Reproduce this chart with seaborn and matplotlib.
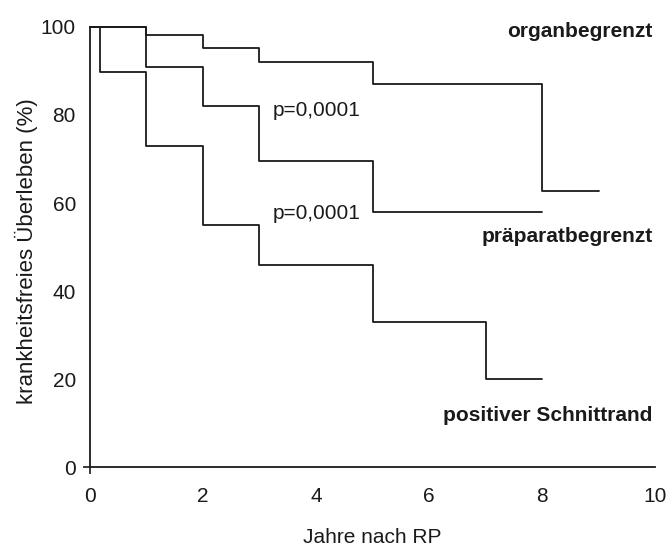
import pandas as pd
import matplotlib
matplotlib.use('Agg')
import matplotlib.pyplot as plt
import seaborn as sns

sns.set_style('white')
plt.rcParams['font.family'] = ['Liberation Sans', 'DejaVu Sans']

# Kaplan-Meier Stufen (Jahre, krankheitsfreies Ueberleben %)
organ_x = [0, 1, 2, 3, 5, 8, 9]
organ_y = [100, 98.2, 95.2, 92, 87, 62.7, 62.7]

praep_x = [0, 1, 2, 3, 5, 8]
praep_y = [100, 91, 82, 69.6, 58, 58]

positiv_x = [0, 0.18, 1, 2, 3, 5, 7, 8]
positiv_y = [100, 89.8, 73, 55, 46, 33, 20, 20]

group_names = ['organbegrenzt', 'präparatbegrenzt', 'positiver Schnittrand']

frames = []
for name, xs, ys in zip(group_names, [organ_x, praep_x, positiv_x], [organ_y, praep_y, positiv_y]):
    frames.append(pd.DataFrame({'jahre': xs, 'ueberleben': ys, 'gruppe': name}))
df = pd.concat(frames, ignore_index=True)

ink = '#1a1a1a'

fig = plt.figure(figsize=(6.7, 5.49), dpi=100)
ax = fig.add_axes([0.134, 0.149, 0.844, 0.802])

sns.lineplot(data=df, x='jahre', y='ueberleben', units='gruppe', estimator=None,
             drawstyle='steps-post', color=ink, linewidth=1.3, ax=ax,
             legend=False, clip_on=False)

ax.set_xlim(0, 10)
ax.set_ylim(0, 100)
ax.set_xticks([0, 2, 4, 6, 8, 10])
ax.set_yticks([0, 20, 40, 60, 80, 100])
ax.tick_params(length=5, width=1.2, labelsize=15, colors=ink, bottom=True, left=True)
ax.tick_params(axis='x', pad=9)
ax.tick_params(axis='y', pad=5)
# Striche nur am Ursprung sichtbar
for t in ax.xaxis.get_major_ticks()[1:] + ax.yaxis.get_major_ticks()[1:]:
    t.tick1line.set_visible(False)
for s in ['top', 'right']:
    ax.spines[s].set_visible(False)
for s in ['left', 'bottom']:
    ax.spines[s].set_color(ink)
    ax.spines[s].set_linewidth(1.3)

ax.set_xlabel('Jahre nach RP', fontsize=15, color=ink, va='center')
ax.set_ylabel('krankheitsfreies Überleben (%)', fontsize=16, color=ink, va='center')
ax.xaxis.set_label_coords(0.5, -0.159)
ax.yaxis.set_label_coords(-0.112, 0.49)

ax.text(9.95, 99, 'organbegrenzt', ha='right', va='center', fontsize=15, fontweight='bold', color=ink)
ax.text(9.95, 52.5, 'präparatbegrenzt', ha='right', va='center', fontsize=15, fontweight='bold', color=ink)
ax.text(9.95, 11.8, 'positiver Schnittrand', ha='right', va='center', fontsize=15, fontweight='bold', color=ink)
ax.text(3.23, 81, 'p=0,0001', ha='left', va='center', fontsize=15, color=ink)
ax.text(3.23, 57.7, 'p=0,0001', ha='left', va='center', fontsize=15, color=ink)

fig.savefig('out.png', dpi=100)
